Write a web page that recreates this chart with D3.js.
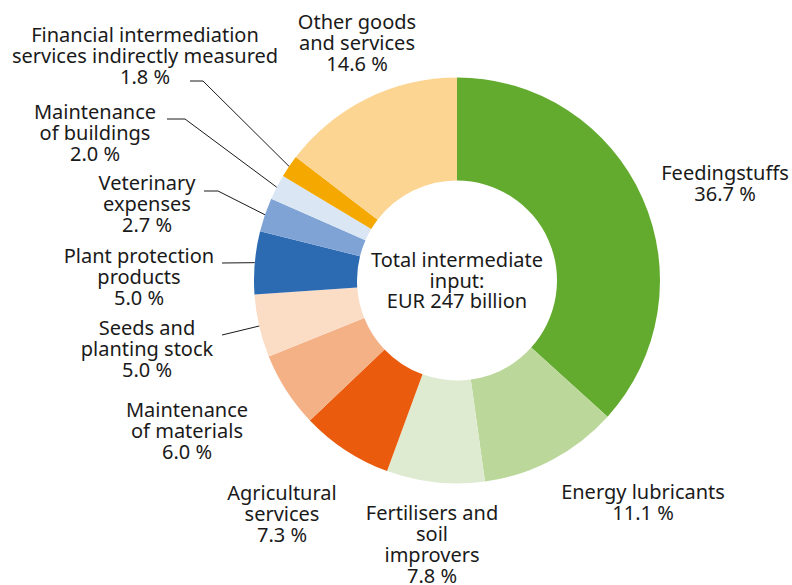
<!DOCTYPE html>
<html>
<head>
<meta charset="utf-8">
<script src="https://cdn.jsdelivr.net/npm/d3@7"></script>
<style>
  body { margin: 0; background: #fff; }
  svg text { font-family: "Noto Sans", sans-serif; font-size: 20px; fill: #1a1a1a; }
</style>
</head>
<body>
<svg id="chart" width="792" height="585"></svg>
<script>
// categories, clockwise from 12 o'clock
const categories = [
    "Feedingstuffs",
    "Energy lubricants",
    "Fertilisers and soil improvers",
    "Agricultural services",
    "Maintenance of materials",
    "Seeds and planting stock",
    "Plant protection products",
    "Veterinary expenses",
    "Maintenance of buildings",
    "Financial intermediation services indirectly measured",
    "Other goods and services"
];
const shares = [36.7, 11.1, 7.8, 7.3, 6.0, 5.0, 5.0, 2.7, 2.0, 1.8, 14.6];
const labelLines = [
    ["Feedingstuffs"],
    ["Energy lubricants"],
    ["Fertilisers and", "soil", "improvers"],
    ["Agricultural", "services"],
    ["Maintenance", "of materials"],
    ["Seeds and", "planting stock"],
    ["Plant protection", "products"],
    ["Veterinary", "expenses"],
    ["Maintenance", "of buildings"],
    ["Financial intermediation", "services indirectly measured"],
    ["Other goods", "and services"]
];
const colors = ["#63ab2f", "#bbd89a", "#deebd1", "#ea5b0d", "#f5b186", "#fbdcc5",
    "#2c6bb2", "#7fa3d4", "#dbe6f5", "#f5a800", "#fdd592"];
const centerText = ["Total intermediate", "input:", "EUR 247 billion"];

// label layout: text centre x, first baseline y, optional leader (start x,y, elbow x)
const labelLayout = [
    {x: 725, y: 180},
    {x: 643, y: 499},
    {x: 432, y: 520},
    {x: 282, y: 500},
    {x: 187, y: 417},
    {x: 147, y: 335, leader: [222, 335, null]},
    {x: 139, y: 263, leader: [222, 263, null]},
    {x: 147, y: 190, leader: [204, 191, 218]},
    {x: 95,  y: 119, leader: [167, 119, 185]},
    {x: 145, y: 42,  leader: [190, 81, 203]},
    {x: 357, y: 28.5}
];

const cx = 457, cy = 280.5, outerR = 203, innerR = 100, lineH = 21;

const data = categories.map((c, i) => ({name: c, value: shares[i], lines: labelLines[i], color: colors[i], layout: labelLayout[i]}));

const svg = d3.select("#chart");
const g = svg.append("g").attr("transform", `translate(${cx},${cy})`);

const pie = d3.pie().value(d => d.value).sort(null);
const arc = d3.arc().innerRadius(innerR).outerRadius(outerR);
const edge = d3.arc().innerRadius(outerR).outerRadius(outerR);

const arcs = pie(data);

g.selectAll("path.slice")
    .data(arcs)
    .join("path")
    .attr("class", "slice")
    .attr("d", arc)
    .attr("fill", d => d.data.color);

// leader lines
arcs.filter(d => d.data.layout.leader).forEach(d => {
    const [sx, sy, ex] = d.data.layout.leader;
    const [px, py] = edge.centroid(d);
    const pts = [[sx, sy]];
    if (ex !== null) pts.push([ex, sy]);
    pts.push([px + cx, py + cy]);
    svg.append("path")
        .attr("d", d3.line()(pts))
        .attr("fill", "none")
        .attr("stroke", "#1a1a1a")
        .attr("stroke-width", 1);
});

// labels
arcs.forEach(d => {
    const lay = d.data.layout;
    const t = svg.append("text")
        .attr("text-anchor", "middle")
        .attr("x", lay.x)
        .attr("y", lay.y);
    const lines = d.data.lines.concat([d.data.value.toFixed(1) + " %"]);
    lines.forEach((l, i) => {
        t.append("tspan")
            .attr("x", lay.x)
            .attr("dy", i === 0 ? 0 : lineH)
            .text(l);
    });
});

// centre text
const ct = svg.append("text")
    .attr("text-anchor", "middle")
    .attr("x", cx)
    .attr("y", 267);
centerText.forEach((l, i) => {
    ct.append("tspan").attr("x", cx).attr("dy", i === 0 ? 0 : 20.5).text(l);
});
</script>
</body>
</html>
